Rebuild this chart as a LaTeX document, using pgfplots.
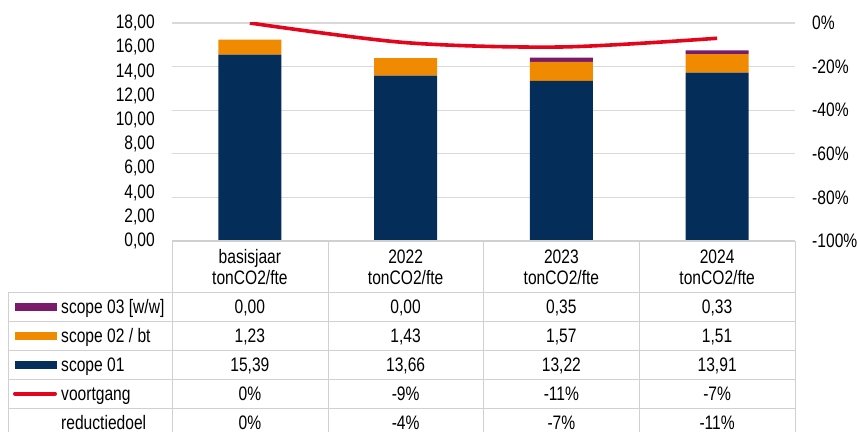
\documentclass[border=0pt]{standalone}
\usepackage{pgfplots}
\pgfplotsset{compat=1.18}
\usepackage{pgfplotstable}
\usepackage{fontspec}
\setmainfont{Liberation Sans}[FakeStretch=0.8]
\definecolor{navyc}{HTML}{052D5A}
\definecolor{orangec}{HTML}{F08A00}
\definecolor{purplec}{HTML}{7A1A6A}
\definecolor{redc}{HTML}{E3051B}
\definecolor{gridc}{HTML}{D9D9D9}
\definecolor{tablec}{HTML}{D0D0D0}
\pgfkeys{/pgf/number format/nl/.style={/pgf/number format/fixed, /pgf/number format/fixed zerofill, /pgf/number format/precision=2, /pgf/number format/use comma, /pgf/number format/assume math mode=true}}
\pgfplotstableread{
x s1 s2 s3 v r
0 15.39 1.23 0.00 0 0
1 13.66 1.43 0.00 -9 -4
2 13.22 1.57 0.35 -11 -7
3 13.91 1.51 0.33 -7 -11
}\datatable
\begin{document}
\begin{tikzpicture}[x=1pt,y=1pt,font=\fontsize{19.5}{21}\selectfont]
\path[use as bounding box] (0,0) rectangle (858,432);
\begin{axis}[at={(172pt,191pt)}, anchor=south west, scale only axis,
  width=623pt, height=218pt, xmin=-0.5, xmax=3.5, ymin=0, ymax=18,
  ybar stacked, bar width=63pt, xtick=\empty,
  ytick={0,2,4,6,8,10,12,14,16,18},
  extra y ticks={3.6,7.2,10.8,14.4,18}, extra y tick labels={},
  extra y tick style={grid=major, major grid style={draw=gridc, line width=1.2pt}},
  axis line style={draw=none}, major tick length=0pt,
  tick label style={font=\fontsize{19.5}{21}\selectfont},
  yticklabel style={/pgf/number format/nl, inner sep=0pt, xshift=-17pt},
  clip=false]
\addplot[fill=navyc, draw=none] table[x=x, y=s1]{\datatable};
\addplot[fill=orangec, draw=none] table[x=x, y=s2]{\datatable};
\addplot[fill=purplec, draw=none] table[x=x, y=s3]{\datatable};
\end{axis}
\begin{axis}[at={(172pt,191pt)}, anchor=south west, scale only axis,
  width=623pt, height=218pt, xmin=-0.5, xmax=3.5, ymin=-1, ymax=0,
  axis y line*=right, axis x line=none,
  ytick={-1,-0.8,-0.6,-0.4,-0.2,0},
  yticklabel={\pgfmathtruncatemacro\p{round(\tick*100)}\p\%},
  axis line style={draw=none}, major tick length=0pt,
  tick label style={font=\fontsize{19.5}{21}\selectfont},
  yticklabel style={inner sep=0pt, xshift=17pt, anchor=west}]
\addplot[redc, line width=3.6pt, smooth, no marks] table[x=x, y expr=\thisrow{v}/100]{\datatable};
\end{axis}
% table grid
\draw[tablec, line width=1.2pt] (172,191) -- (795,191);
\foreach \yy in {140,111,82,53,24} \draw[tablec, line width=1pt] (8,\yy) -- (795,\yy);
\foreach \xx in {172,328,483,639,795} \draw[tablec, line width=1pt] (\xx,191) -- (\xx,0);
\draw[tablec, line width=1pt] (8,140) -- (8,0);
% header
\foreach \i/\lab in {0/basisjaar,1/2022,2/2023,3/2024}
  \node[align=center, inner sep=0pt] at ({249.9+155.75*\i},165) {\lab\\tonCO2/fte};
% legend keys and labels
\fill[purplec] (15,121.5) rectangle (57,129.5);
\fill[orangec] (15,92.5) rectangle (57,100.5);
\fill[navyc] (15,63.5) rectangle (57,71.5);
\draw[redc, line width=4pt, line cap=round] (15,38.5) -- (55,38.5);
\node[anchor=base west, inner sep=0pt] at (61,118.5) {scope 03 [w/w]};
\node[anchor=base west, inner sep=0pt] at (61,89.5) {scope 02 / bt};
\node[anchor=base west, inner sep=0pt] at (61,60.5) {scope 01};
\node[anchor=base west, inner sep=0pt] at (61,31.5) {voortgang};
\node[anchor=base west, inner sep=0pt] at (61,2.5) {reductiedoel};
% values
\foreach \i in {0,1,2,3}{
  \pgfmathsetmacro\cx{249.9+155.75*\i}
  \pgfplotstablegetelem{\i}{s3}\of\datatable
  \node[anchor=base, inner sep=0pt] at (\cx,118.5) {\pgfmathprintnumber[nl]{\pgfplotsretval}};
  \pgfplotstablegetelem{\i}{s2}\of\datatable
  \node[anchor=base, inner sep=0pt] at (\cx,89.5) {\pgfmathprintnumber[nl]{\pgfplotsretval}};
  \pgfplotstablegetelem{\i}{s1}\of\datatable
  \node[anchor=base, inner sep=0pt] at (\cx,60.5) {\pgfmathprintnumber[nl]{\pgfplotsretval}};
  \pgfplotstablegetelem{\i}{v}\of\datatable
  \node[anchor=base, inner sep=0pt] at (\cx,31.5) {\pgfplotsretval\%};
  \pgfplotstablegetelem{\i}{r}\of\datatable
  \node[anchor=base, inner sep=0pt] at (\cx,2.5) {\pgfplotsretval\%};
}
\end{tikzpicture}
\end{document}
